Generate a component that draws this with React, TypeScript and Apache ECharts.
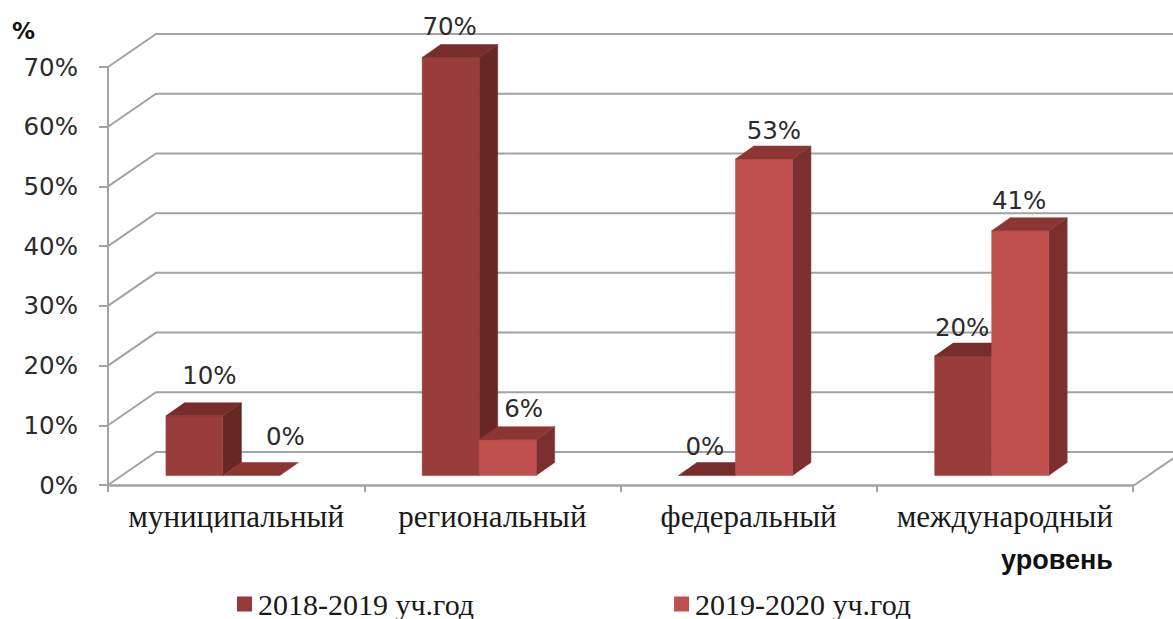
import React, { useEffect, useRef } from "react";
import * as echarts from "echarts";

const categories = ["муниципальный", "региональный", "федеральный", "международный"];
const series2018 = [10, 70, 0, 20];
const series2019 = [0, 6, 53, 41];
const gridValues = [0, 10, 20, 30, 40, 50, 60, 70];
const seriesNames = ["2018-2019 уч.год", "2019-2020 уч.год"];

// label nudges relative to the bar's front-top centre, per category
const labelNudge2018 = [[15, -40], [-1, -31], [-2, -29], [-1, -29]];
const labelNudge2019 = [[34, -39], [16, -31], [10, -29], [-1, -30]];

const WALL_DX = 48;
const WALL_DY = -33;
const BAR_W = 57;
const BAR_DX = 18.5;
const BAR_DY = -13;
const FLOOR_DY = -9.5;
const SPLIT_DX = -13.2;
const GRID_COLOR = "#a3a3a3";

const poly = (points: number[][], fill: string) => ({
  type: "polygon",
  shape: { points },
  style: { fill, stroke: fill, lineWidth: 0.5 },
});

function barRenderer(
  seriesIndex: number,
  values: number[],
  nudges: number[][],
  colors: { front: string; top: string; side: string },
) {
  return (params: any, api: any) => {
    const cat = api.value(0);
    const val = values[cat];
    const base = api.coord([cat, 0]);
    const top = api.coord([cat, val]);
    const xs = base[0] + SPLIT_DX + (seriesIndex === 0 ? -BAR_W : 0);
    const yb = base[1] + FLOOR_DY;
    const yt = top[1] + FLOOR_DY;
    const xe = xs + BAR_W;
    const [nx, ny] = nudges[cat];
    const children: any[] = [];
    if (val > 0) {
      children.push(poly([[xe, yt], [xe + BAR_DX, yt + BAR_DY], [xe + BAR_DX, yb + BAR_DY], [xe, yb]], colors.side));
      children.push(poly([[xs, yb], [xe, yb], [xe, yt], [xs, yt]], colors.front));
    }
    children.push(poly([[xs, yt], [xe, yt], [xe + BAR_DX, yt + BAR_DY], [xs + BAR_DX, yt + BAR_DY]], colors.top));
    children.push({
      type: "text",
      z2: 50,
      style: {
        text: `${val}%`,
        x: xs + BAR_W / 2 + nx,
        y: yt + ny,
        align: "center",
        verticalAlign: "middle",
        font: '24.5px "DejaVu Sans"',
        fill: "#2b2b2b",
      },
    });
    return { type: "group", children };
  };
}

function gridRenderer(params: any, api: any) {
  const v = api.value(0);
  const left = api.coord([0, v]);
  const size = api.size([1, 0])[0];
  const x0 = left[0] - size / 2;
  const y = left[1];
  const x1 = x0 + size * categories.length;
  const children: any[] = [
    {
      type: "polyline",
      shape: { points: [[x0, y], [x0 + WALL_DX, y + WALL_DY], [x1 + WALL_DX, y + WALL_DY]] },
      style: { stroke: GRID_COLOR, lineWidth: 2, fill: "none" },
    },
  ];
  if (v === 0) {
    children.push({
      type: "line",
      shape: { x1, y1: y + 1, x2: x1 + WALL_DX, y2: y + 1 + WALL_DY },
      style: { stroke: GRID_COLOR, lineWidth: 2 },
    });
  }
  return { type: "group", children };
}

export default function App() {
  const ref = useRef<HTMLDivElement>(null);
  useEffect(() => {
    const chart = echarts.init(ref.current!, null, { renderer: "svg" });
    const catData = categories.map((_, i) => [i]);
    chart.setOption({
      animation: false,
      backgroundColor: "#ffffff",
      grid: { left: 108, right: 40, top: 67, bottom: 134 },
      xAxis: {
        type: "category",
        data: categories,
        axisLine: { lineStyle: { color: GRID_COLOR, width: 2.5 } },
        axisTick: { show: true, length: 7, alignWithLabel: false, lineStyle: { color: GRID_COLOR, width: 2 } },
        axisLabel: {
          margin: 16,
          fontFamily: '"Liberation Serif"',
          fontSize: 31,
          color: "#1a1a1a",
          interval: 0,
        },
        splitLine: { show: false },
      },
      yAxis: {
        type: "value",
        min: 0,
        max: 70,
        interval: 10,
        axisLine: { show: true, lineStyle: { color: GRID_COLOR, width: 2 } },
        axisTick: { show: true, length: 9, lineStyle: { color: GRID_COLOR, width: 2 } },
        axisLabel: {
          formatter: "{value}%",
          margin: 30,
          fontFamily: '"DejaVu Sans"',
          fontSize: 24.5,
          color: "#2b2b2b",
        },
        splitLine: { show: false },
      },
      legend: {
        show: true,
        left: 232,
        top: 584,
        itemWidth: 15,
        itemHeight: 15,
        itemGap: 200,
        icon: "rect",
        selectedMode: false,
        data: seriesNames,
        textStyle: { fontFamily: '"Liberation Serif"', fontSize: 30, color: "#1a1a1a", padding: [0, 0, 0, 1] },
      },
      graphic: [
        {
          type: "text",
          x: 12,
          y: 19,
          style: { text: "%", font: 'bold 23px "DejaVu Sans"', fill: "#111111" },
        },
        {
          type: "text",
          x: 1001,
          y: 546,
          style: { text: "уровень", font: 'bold 27px "Liberation Sans"', fill: "#111111" },
        },
      ],
      series: [
        {
          type: "custom",
          name: "grid",
          silent: true,
          clip: false,
          z: 1,
          data: gridValues.map((v) => [v]),
          encode: { y: 0 },
          renderItem: gridRenderer,
        },
        {
          type: "custom",
          name: seriesNames[0],
          clip: false,
          z: 2,
          itemStyle: { color: "#953a38" },
          data: catData,
          encode: { x: 0 },
          renderItem: barRenderer(0, series2018, labelNudge2018, { front: "#993d3b", top: "#772d2b", side: "#672725" }),
        },
        {
          type: "custom",
          name: seriesNames[1],
          clip: false,
          z: 3,
          itemStyle: { color: "#c0504d" },
          data: catData,
          encode: { x: 0 },
          renderItem: barRenderer(1, series2019, labelNudge2019, { front: "#c0504d", top: "#8c3634", side: "#7c302e" }),
        },
      ],
    });
    return () => chart.dispose();
  }, []);
  return <div ref={ref} style={{ position: "fixed", left: 0, top: 0, width: 1173, height: 619 }} />;
}
